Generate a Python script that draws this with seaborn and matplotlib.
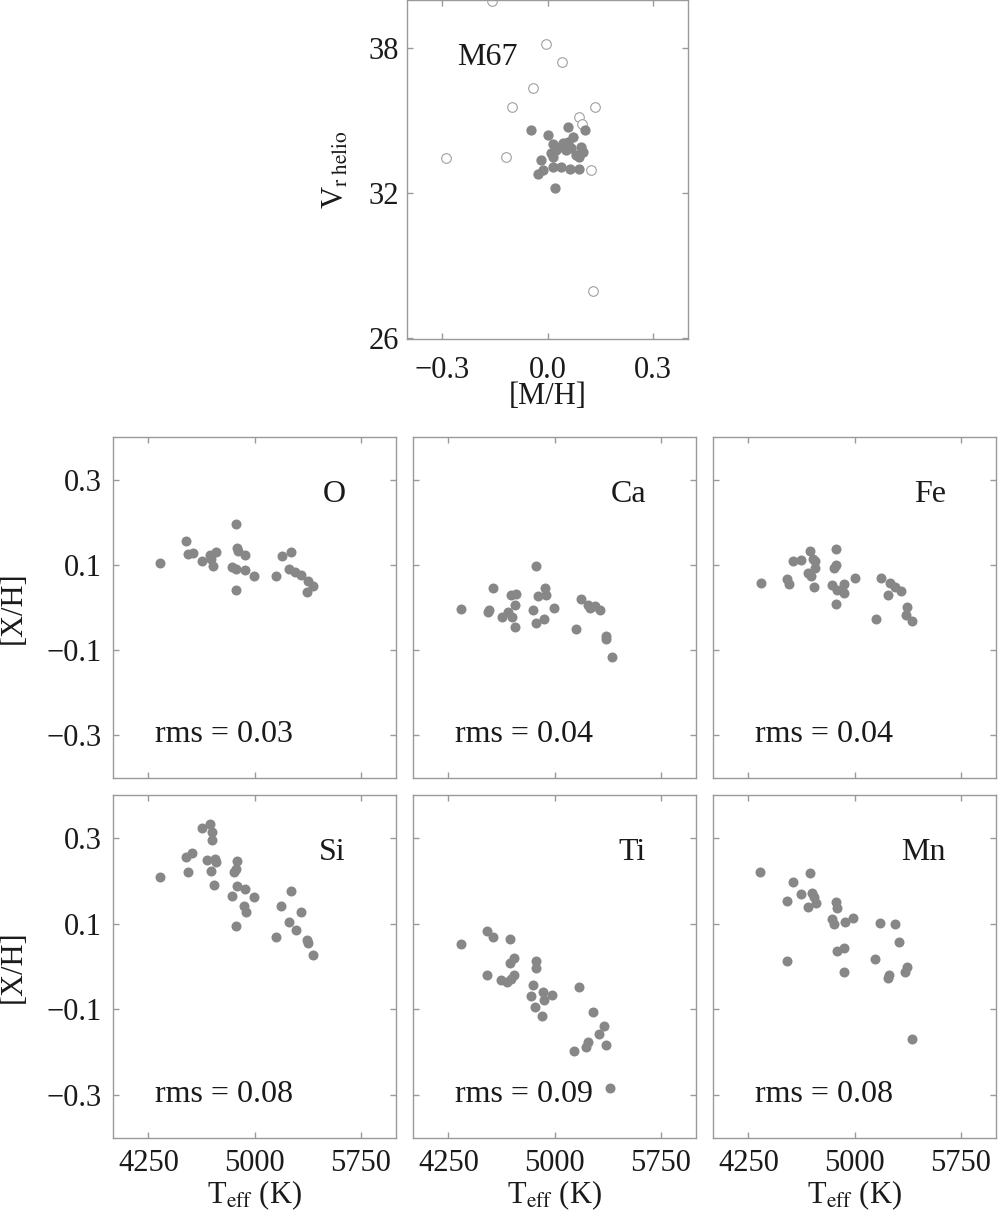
import numpy as np
import pandas as pd
import matplotlib
matplotlib.use("Agg")
import matplotlib.pyplot as plt
import seaborn as sns

# ---------------- data ----------------
# top panel: M67 members (filled) and non-members (open)
mh_members = [-0.046, 0.001, 0.058, 0.107, 0.072, 0.017, 0.044, 0.058, 0.096, 0.100,
              0.025, 0.053, 0.082, 0.017, -0.019, 0.017, 0.039, 0.065, 0.091, -0.013,
              -0.028, 0.022, 0.036, 0.050, 0.067, 0.091, 0.011]
vr_members = [34.61, 34.39, 34.72, 34.62, 34.33, 34.03, 34.06, 34.13, 33.89, 33.71,
              33.78, 33.78, 33.57, 33.50, 33.37, 33.09, 33.09, 32.99, 32.99, 32.95,
              32.78, 32.19, 33.92, 33.92, 33.85, 33.50, 33.64]
mh_nonmembers = [-0.158, -0.003, 0.042, -0.042, -0.100, 0.136, 0.091, 0.098, -0.290, -0.119, 0.123, 0.130]
vr_nonmembers = [39.97, 38.19, 37.44, 36.35, 35.56, 35.56, 35.15, 34.86, 33.45, 33.48, 32.94, 27.94]

# abundance panels
o_teff = [4333, 4518, 4530, 4565, 4627, 4684, 4726, 4696, 4707, 4869, 4873, 4883, 4933, 4838,
          4869, 4930, 4869, 4997, 5151, 5191, 5255, 5241, 5288, 5328, 5380, 5411, 5369]
o_xh = [0.105, 0.157, 0.125, 0.128, 0.109, 0.123, 0.131, 0.114, 0.097, 0.196, 0.140, 0.132, 0.123,
        0.094, 0.091, 0.089, 0.041, 0.075, 0.073, 0.120, 0.130, 0.091, 0.083, 0.077, 0.063, 0.051, 0.036]

ca_teff = [4339, 4565, 4527, 4535, 4632, 4674, 4693, 4728, 4721, 4697, 4718, 4872, 4930, 4881,
           4937, 4849, 4998, 4872, 4925, 5152, 5187, 5240, 5252, 5287, 5324, 5366, 5361, 5406]
ca_xh = [-0.003, 0.046, -0.010, -0.006, -0.023, -0.010, 0.029, 0.031, 0.005, -0.023, -0.045, 0.098,
         0.046, 0.027, 0.029, -0.005, -0.001, -0.036, -0.027, -0.051, 0.021, 0.007, -0.001, 0.003,
         -0.005, -0.068, -0.075, -0.115]

fe_teff = [4337, 4526, 4537, 4568, 4624, 4688, 4709, 4722, 4718, 4695, 4671, 4713, 4871, 4872, 4853,
           4842, 4877, 4929, 4929, 4871, 5000, 5185, 5248, 5285, 5327, 5239, 5151, 5374, 5362, 5407]
fe_xh = [0.058, 0.066, 0.056, 0.110, 0.112, 0.133, 0.114, 0.108, 0.093, 0.075, 0.081, 0.047, 0.137,
         0.100, 0.092, 0.053, 0.042, 0.056, 0.034, 0.008, 0.069, 0.070, 0.057, 0.049, 0.039, 0.029,
         -0.027, 0.001, -0.018, -0.032]

si_teff = [4333, 4518, 4560, 4532, 4627, 4684, 4700, 4698, 4667, 4722, 4726, 4696, 4717, 4878, 4869,
           4854, 4878, 4930, 4843, 4997, 4925, 4937, 4869, 5151, 5189, 5255, 5328, 5241, 5290, 5369,
           5380, 5411]
si_xh = [0.208, 0.255, 0.265, 0.221, 0.323, 0.332, 0.313, 0.294, 0.249, 0.251, 0.243, 0.223, 0.190,
         0.246, 0.227, 0.220, 0.187, 0.181, 0.164, 0.162, 0.140, 0.128, 0.095, 0.068, 0.140, 0.175,
         0.128, 0.104, 0.086, 0.061, 0.055, 0.027]

ti_teff = [4340, 4521, 4563, 4684, 4526, 4619, 4665, 4694, 4712, 4682, 4717, 4870, 4868, 4845, 4831,
           4917, 4929, 4985, 4859, 4912, 5174, 5274, 5351, 5313, 5234, 5224, 5138, 5363, 5395]
ti_xh = [0.053, 0.083, 0.068, 0.064, -0.020, -0.032, -0.036, -0.029, -0.019, 0.007, 0.019, 0.013,
         -0.003, -0.043, -0.069, -0.060, -0.078, -0.066, -0.094, -0.115, -0.047, -0.105, -0.138,
         -0.157, -0.176, -0.188, -0.198, -0.183, -0.283]

mn_teff = [4334, 4564, 4686, 4521, 4624, 4697, 4713, 4727, 4671, 4869, 4876, 4839, 4853, 4931, 4992,
           5182, 5285, 5318, 4876, 4923, 4526, 4925, 5147, 5243, 5234, 5370, 5358, 5407]
mn_xh = [0.221, 0.198, 0.217, 0.152, 0.168, 0.171, 0.161, 0.148, 0.139, 0.150, 0.136, 0.111, 0.099,
         0.104, 0.112, 0.102, 0.098, 0.057, 0.036, 0.043, 0.012, -0.013, 0.018, -0.019, -0.027,
         -0.002, -0.013, -0.169]

elements = ["O", "Ca", "Fe", "Si", "Ti", "Mn"]
rms_labels = ["rms = 0.03", "rms = 0.04", "rms = 0.04", "rms = 0.08", "rms = 0.09", "rms = 0.08"]
teff_data = [o_teff, ca_teff, fe_teff, si_teff, ti_teff, mn_teff]
xh_data = [o_xh, ca_xh, fe_xh, si_xh, ti_xh, mn_xh]

teff_ticks = [4250, 5000, 5750]
xh_ticks = [-0.3, -0.1, 0.1, 0.3]
mh_ticks = [-0.3, 0.0, 0.3]
vr_ticks = [26, 32, 38]

# ---------------- style ----------------
sns.set_style("ticks")
plt.rcParams["font.family"] = ["Liberation Serif", "DejaVu Serif"]
plt.rcParams["mathtext.fontset"] = "stix"
plt.rcParams["axes.unicode_minus"] = True

GRAY = "#878787"
SPINE = "#9a9a9a"
TXT = "#1a1a1a"
FS = 22

fig = plt.figure(figsize=(10, 12.19), dpi=100)


def style_axes(ax, xpad, ypad):
    for s in ax.spines.values():
        s.set_color(SPINE)
        s.set_linewidth(1.0)
    ax.tick_params(direction="in", length=4, width=1, color=SPINE,
                   top=True, right=True, labelsize=FS, labelcolor=TXT)
    ax.tick_params(axis="x", pad=xpad)
    ax.tick_params(axis="y", pad=ypad)


# top panel
ax0 = fig.add_axes([0.407, 1 - 339 / 1219, 0.281, 339 / 1219])
df_non = pd.DataFrame({"mh": mh_nonmembers, "vr": vr_nonmembers})
df_mem = pd.DataFrame({"mh": mh_members, "vr": vr_members})
sns.scatterplot(data=df_non, x="mh", y="vr", ax=ax0, marker="o", s=48,
                facecolor="white", edgecolor="#a0a0a0", linewidth=0.8, clip_on=True)
sns.scatterplot(data=df_mem, x="mh", y="vr", ax=ax0, marker="o", s=55,
                color=GRAY, linewidth=0)
ax0.set_xlim(-0.4, 0.4)
ax0.set_ylim(25.95, 40.0)
ax0.set_xticks(mh_ticks)
ax0.set_xticklabels(["\u22120.3", "0.0", "0.3"])
ax0.set_yticks(vr_ticks)
ax0.set_yticklabels([str(v) for v in vr_ticks])
style_axes(ax0, 12, 6)
ax0.set_xlabel("[M/H]", fontsize=FS, color=TXT)
ax0.set_ylabel(r"V$_{\rm r\ helio}$", fontsize=FS, color=TXT)
ax0.xaxis.set_label_coords(0.5, -0.128)
ax0.yaxis.set_label_coords(-0.20, 0.5)
ax0.text(0.178, 0.808, "M67", transform=ax0.transAxes, fontsize=FS + 1,
         color=TXT, ha="left", va="baseline")

# abundance panels
lefts = [113, 413, 713]
rows = [(437, 778), (795, 1138)]
for i, el in enumerate(elements):
    r, c = divmod(i, 3)
    top, bot = rows[r]
    ax = fig.add_axes([lefts[c] / 1000, 1 - bot / 1219, 0.283, (bot - top) / 1219])
    df = pd.DataFrame({"teff": teff_data[i], "xh": xh_data[i]})
    sns.scatterplot(data=df, x="teff", y="xh", ax=ax, marker="o", s=52,
                    color=GRAY, linewidth=0)
    ax.set_xlim(4000, 6000)
    ax.set_ylim(-0.4, 0.4)
    ax.set_xticks(teff_ticks)
    ax.set_yticks(xh_ticks)
    style_axes(ax, 8, 8)
    if r == 1:
        ax.set_xticklabels([str(t) for t in teff_ticks])
        ax.set_xlabel(r"T$_{\rm eff}$ (K)", fontsize=FS, color=TXT)
        ax.xaxis.set_label_coords(0.5, -0.118)
    else:
        ax.set_xticklabels([])
        ax.set_xlabel("")
    if c == 0:
        ax.set_yticklabels(["\u22120.3", "\u22120.1", "0.1", "0.3"])
        ax.set_ylabel("[X/H]", fontsize=FS, color=TXT)
        ax.yaxis.set_label_coords(-0.30, 0.5)
    else:
        ax.set_yticklabels([])
        ax.set_ylabel("")
    ax.text(0.823, 0.81, el, transform=ax.transAxes, fontsize=FS + 1,
            color=TXT, ha="right", va="baseline")
    ax.text(0.148, 0.105, rms_labels[i], transform=ax.transAxes, fontsize=FS + 1,
            color=TXT, ha="left", va="baseline")

fig.savefig("out.png", dpi=100)
